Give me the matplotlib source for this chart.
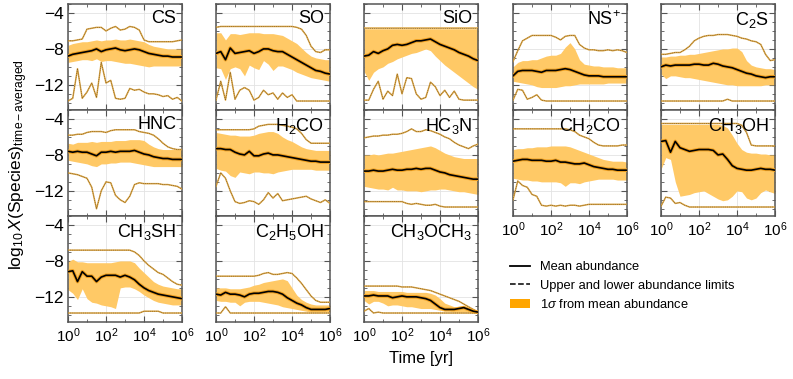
import numpy as np
import matplotlib
matplotlib.use("Agg")
import matplotlib.pyplot as plt
from matplotlib.lines import Line2D
from matplotlib.patches import Patch
from matplotlib.ticker import MultipleLocator, LogLocator, NullFormatter

plt.rcParams['font.family'] = ['Liberation Sans', 'DejaVu Sans']
plt.rcParams['mathtext.fontset'] = 'custom'
plt.rcParams['mathtext.rm'] = 'Liberation Sans'
plt.rcParams['mathtext.it'] = 'Liberation Sans:italic'
plt.rcParams['mathtext.bf'] = 'Liberation Sans:bold'

# ---------------- data ----------------
LOG_TIME = np.linspace(0, 6, 25)  # log10(t / yr) grid

SPECIES = ["CS", "SO", "SiO", "NS+", "C2S", "HNC", "H2CO", "HC3N",
           "CH2CO", "CH3OH", "CH3SH", "C2H5OH", "CH3OCH3"]
LABELS = ["CS", "SO", "SiO", r"NS$^{+}$", r"C$_2$S", "HNC", r"H$_2$CO", r"HC$_3$N",
          r"CH$_2$CO", r"CH$_3$OH", r"CH$_3$SH", r"C$_2$H$_5$OH", r"CH$_3$OCH$_3$"]

MEAN = {
    "CS": [-8.8,-8.6,-8.5,-8.4,-8.3,-8.2,-8.0,-8.3,-8.1,-8.0,-7.9,-8.1,-8.2,-8.1,-8.0,-8.1,-8.3,-8.5,-8.6,-8.7,-8.8,-8.8,-8.9,-8.9,-8.9],
    "SO": [-8.5,-8.3,-9.2,-7.9,-8.5,-8.4,-8.3,-8.2,-8.5,-8.3,-8.0,-8.0,-8.2,-8.3,-8.3,-8.6,-8.9,-9.2,-9.5,-9.8,-10.1,-10.4,-10.5,-10.7,-10.8],
    "SiO": [-8.8,-8.7,-8.3,-8.5,-8.2,-8.0,-7.6,-7.5,-7.6,-7.5,-7.3,-7.1,-7.1,-7.0,-6.9,-7.2,-7.5,-7.7,-7.9,-8.1,-8.4,-8.6,-8.8,-9.1,-9.3],
    "NS+": [-11.0,-10.5,-10.4,-10.4,-10.4,-10.5,-10.6,-10.4,-10.4,-10.4,-10.3,-10.2,-10.3,-10.5,-10.7,-10.9,-11.0,-11.0,-11.0,-11.1,-11.1,-11.1,-11.1,-11.1,-11.1],
    "C2S": [-10.0,-9.8,-9.9,-9.8,-9.8,-9.8,-9.8,-9.7,-9.7,-9.8,-9.8,-9.6,-9.7,-9.9,-10.0,-10.1,-10.3,-10.5,-10.7,-10.8,-11.0,-11.1,-11.2,-11.1,-11.1],
    "HNC": [-7.6,-7.7,-7.6,-7.7,-7.7,-7.9,-8.1,-7.7,-7.7,-7.6,-7.7,-7.6,-7.6,-7.6,-7.5,-7.7,-7.9,-8.0,-8.2,-8.3,-8.4,-8.4,-8.5,-8.5,-8.5],
    "H2CO": [-7.3,-7.3,-7.4,-7.4,-7.7,-7.9,-8.0,-7.6,-8.1,-8.1,-7.9,-7.8,-8.0,-8.0,-8.1,-8.2,-8.3,-8.4,-8.5,-8.6,-8.7,-8.7,-8.8,-8.8,-8.8],
    "HC3N": [-9.8,-9.8,-9.7,-9.8,-9.8,-9.7,-9.6,-9.7,-9.7,-9.6,-9.6,-9.5,-9.6,-9.5,-9.5,-9.7,-9.9,-10.0,-10.2,-10.3,-10.4,-10.5,-10.6,-10.7,-10.7],
    "CH2CO": [-8.7,-8.6,-8.5,-8.5,-8.6,-8.6,-8.6,-8.7,-8.7,-8.6,-8.8,-8.8,-8.9,-9.0,-9.0,-8.9,-9.1,-9.3,-9.4,-9.5,-9.6,-9.6,-9.7,-9.7,-9.7],
    "CH3OH": [-6.5,-6.4,-7.7,-6.5,-7.2,-7.4,-7.6,-7.5,-7.4,-7.4,-7.4,-7.5,-8.0,-7.9,-8.5,-9.2,-9.5,-9.6,-9.7,-9.7,-9.6,-9.5,-9.6,-9.6,-9.7],
    "CH3SH": [-9.2,-9.1,-10.3,-9.2,-9.7,-9.7,-10.3,-9.8,-9.6,-9.6,-9.6,-9.8,-9.6,-9.8,-10.1,-10.6,-11.0,-11.3,-11.5,-11.7,-11.8,-11.9,-12.0,-12.1,-12.2],
    "C2H5OH": [-11.7,-11.8,-11.5,-11.7,-11.7,-11.8,-12.0,-11.7,-11.6,-11.6,-11.5,-11.4,-11.4,-11.5,-11.7,-12.1,-12.4,-12.7,-12.9,-13.2,-13.4,-13.4,-13.4,-13.4,-13.3],
    "CH3OCH3": [-11.9,-11.9,-11.8,-11.9,-11.9,-11.9,-12.1,-12.0,-11.9,-12.0,-12.0,-12.0,-12.1,-12.2,-12.4,-12.8,-13.2,-13.4,-13.4,-13.4,-13.3,-13.2,-13.4,-13.6,-13.7],
}

SIGMA_HI = {
    "CS": [-7.6,-7.4,-7.3,-7.2,-7.2,-7.1,-7.0,-7.1,-7.0,-7.0,-6.9,-7.0,-7.0,-6.9,-7.0,-7.1,-7.2,-7.5,-7.7,-7.8,-7.9,-8.0,-8.0,-8.0,-8.0],
    "SO": [-6.2,-6.2,-7.0,-6.3,-6.3,-6.4,-6.3,-6.2,-6.2,-6.2,-6.3,-6.3,-6.3,-6.4,-6.5,-6.8,-7.1,-7.4,-7.9,-8.4,-8.8,-9.0,-9.1,-9.2,-9.2],
    "SiO": [-5.75]*25,
    "NS+": [-10.0,-9.5,-9.3,-9.3,-9.2,-9.2,-9.0,-8.8,-8.7,-8.7,-8.5,-7.8,-7.3,-8.0,-9.2,-9.7,-9.8,-9.9,-9.9,-10.0,-10.0,-10.0,-10.1,-10.1,-10.1],
    "C2S": [-8.9,-8.9,-8.8,-8.8,-8.7,-8.7,-8.6,-8.6,-8.5,-8.4,-8.3,-8.2,-8.1,-8.0,-8.0,-7.9,-7.9,-8.3,-9.3,-9.8,-10.0,-10.1,-10.2,-10.2,-10.3],
    "HNC": [-6.7,-6.8,-6.6,-6.6,-6.6,-6.5,-6.6,-6.5,-6.5,-6.5,-6.4,-6.4,-6.4,-6.3,-6.3,-6.3,-6.4,-6.8,-7.1,-7.3,-7.4,-7.4,-7.4,-7.4,-7.4],
    "H2CO": [-5.5,-5.6,-5.7,-5.8,-5.8,-5.9,-5.9,-5.9,-5.8,-5.6,-5.5,-5.4,-5.4,-5.6,-6.0,-6.3,-6.5,-6.8,-7.1,-7.3,-7.4,-7.5,-7.5,-7.5,-7.5],
    "HC3N": [-8.0,-8.0,-7.9,-8.0,-7.9,-7.8,-7.8,-7.7,-7.6,-7.5,-7.4,-7.3,-7.2,-7.1,-7.0,-7.2,-7.5,-7.8,-8.0,-8.2,-8.3,-8.4,-8.4,-8.4,-8.4],
    "CH2CO": [-7.4,-7.3,-7.3,-7.2,-7.2,-7.1,-7.1,-7.1,-7.0,-7.0,-7.0,-7.0,-7.1,-7.3,-7.5,-7.7,-7.9,-8.1,-8.3,-8.5,-8.6,-8.7,-8.7,-8.7,-8.8],
    "CH3OH": [-4.6]*13 + [-4.7,-5.0,-5.8,-6.7,-7.4,-7.7,-7.8,-7.8,-7.9,-7.9,-8.0,-8.0],
    "CH3SH": [-8.1,-7.8,-8.1,-8.1,-8.2,-8.2,-8.2,-8.2,-8.2,-8.2,-8.1,-8.0,-8.0,-8.0,-8.2,-8.8,-9.3,-9.8,-10.3,-10.6,-10.8,-10.9,-11.0,-11.1,-11.1],
    "C2H5OH": [-11.0,-11.0,-11.0,-11.1,-11.1,-11.1,-11.0,-10.9,-10.7,-10.6,-10.4,-10.3,-10.2,-10.1,-10.0,-10.2,-11.0,-11.8,-12.3,-12.6,-12.8,-12.9,-12.9,-12.9,-12.9],
    "CH3OCH3": [-11.3,-11.3,-11.3,-11.4,-11.4,-11.4,-11.4,-11.4,-11.4,-11.5,-11.5,-11.5,-11.5,-11.5,-11.6,-11.8,-12.2,-12.7,-12.9,-13.1,-13.2,-13.3,-13.4,-13.5,-13.6],
}

SIGMA_LO = {
    "CS": [-9.5,-9.4,-9.3,-9.2,-9.2,-9.3,-9.1,-9.4,-9.3,-9.3,-9.4,-9.5,-9.6,-9.6,-9.7,-9.8,-9.9,-10.0,-9.9,-9.9,-9.9,-9.9,-9.9,-9.9,-9.9],
    "SO": [-10.1,-10.2,-11.4,-10.2,-10.0,-10.2,-11.0,-9.8,-10.1,-10.3,-9.3,-9.7,-10.4,-9.9,-9.9,-10.1,-10.3,-10.6,-10.8,-11.0,-11.2,-11.3,-11.4,-11.5,-11.6],
    "SiO": [-10.5,-11.5,-10.6,-10.2,-10.0,-9.6,-9.4,-9.1,-8.9,-8.7,-8.5,-8.4,-8.2,-8.0,-8.2,-8.8,-9.3,-9.8,-10.2,-10.6,-11.0,-11.4,-11.8,-12.2,-12.5],
    "NS+": [-11.6,-11.7,-11.8,-11.9,-12.0,-12.2,-12.3,-12.3,-12.3,-12.3,-12.2,-12.1,-12.1,-12.0,-11.9,-11.9,-11.9,-11.9,-11.9,-11.9,-11.8,-11.8,-11.8,-11.8,-11.8],
    "C2S": [-10.8,-11.3,-11.0,-11.0,-11.1,-11.2,-11.2,-11.3,-11.4,-11.5,-11.6,-11.7,-11.8,-11.9,-12.0,-12.0,-12.1,-12.1,-12.1,-12.1,-12.1,-12.1,-12.0,-12.0,-12.0],
    "HNC": [-8.6,-8.7,-8.8,-8.9,-9.0,-9.2,-9.3,-9.0,-9.0,-8.9,-8.9,-8.8,-8.8,-8.8,-8.9,-9.0,-9.1,-9.2,-9.3,-9.3,-9.3,-9.3,-9.3,-9.3,-9.3],
    "H2CO": [-9.5,-9.7,-9.8,-10.3,-10.5,-9.9,-10.0,-10.1,-9.9,-9.9,-10.0,-10.0,-10.1,-9.9,-9.8,-9.7,-9.6,-9.6,-9.6,-9.6,-9.6,-9.7,-9.7,-9.7,-9.7],
    "HC3N": [-11.5,-11.6,-11.7,-11.8,-11.8,-11.9,-11.6,-11.9,-11.9,-12.0,-12.0,-12.0,-12.1,-12.0,-11.9,-11.9,-11.8,-11.8,-11.9,-12.0,-12.1,-12.1,-12.2,-12.3,-12.4],
    "CH2CO": [-10.6,-10.7,-10.8,-10.8,-10.9,-10.9,-11.0,-11.0,-11.0,-11.0,-11.1,-11.5,-11.1,-11.1,-11.2,-11.0,-10.9,-10.8,-10.7,-10.7,-10.7,-10.7,-10.8,-10.8,-10.8],
    "CH3OH": [-9.6,-8.3,-8.5,-11.0,-12.6,-12.5,-12.4,-12.2,-12.1,-12.0,-12.3,-12.6,-12.9,-13.1,-13.0,-12.6,-12.0,-12.1,-12.8,-13.0,-12.8,-12.2,-11.9,-12.1,-12.3],
    "CH3SH": [-11.2,-11.6,-12.3,-11.1,-12.2,-12.6,-12.7,-12.9,-13.0,-13.1,-13.3,-11.0,-10.9,-10.9,-11.1,-11.4,-11.8,-12.1,-12.4,-12.6,-12.7,-12.8,-12.9,-12.9,-12.9],
    "C2H5OH": [-12.4,-12.5,-12.5,-12.6,-12.6,-13.0,-12.6,-12.5,-12.5,-12.5,-12.6,-12.7,-12.8,-12.9,-13.1,-13.2,-13.3,-13.4,-13.5,-13.6,-13.7,-13.7,-13.7,-13.7,-13.7],
    "CH3OCH3": [-12.4,-12.8,-12.5,-12.5,-12.7,-13.0,-12.9,-12.9,-13.0,-13.1,-13.1,-13.2,-13.3,-13.3,-13.3,-13.4,-13.5,-13.6,-13.6,-13.7,-13.7,-13.7,-13.7,-13.8,-13.8],
}

UPPER = {
    "CS": [-7.1,-7.1,-7.0,-6.9,-5.8,-5.7,-5.6,-5.6,-6.0,-5.7,-5.5,-5.9,-5.8,-5.5,-5.6,-5.9,-7.0,-7.2,-7.2,-7.2,-7.2,-7.2,-7.2,-7.1,-7.0],
    "SO": [-5.6,-5.5,-5.5,-5.5,-5.5,-5.5,-5.5,-5.5,-5.5,-5.5,-5.5,-5.5,-5.5,-5.5,-5.5,-5.5,-5.5,-5.6,-5.8,-6.5,-7.7,-8.3,-8.4,-8.1,-8.1],
    "SiO": [-5.7]*25,
    "NS+": [-9.4,-8.2,-7.1,-6.8,-6.5,-6.5,-6.5,-6.5,-6.5,-6.7,-7.0,-6.6,-6.5,-6.5,-7.5,-7.9,-8.1,-8.1,-8.2,-8.2,-8.1,-8.2,-8.1,-8.2,-8.4],
    "C2S": [-8.6,-8.6,-8.5,-8.4,-8.4,-8.1,-7.7,-7.1,-6.8,-6.6,-6.5,-6.5,-6.4,-6.4,-6.4,-6.5,-6.6,-6.8,-6.9,-7.1,-7.2,-7.5,-8.6,-9.3,-9.2],
    "HNC": [-5.8,-5.8,-5.7,-5.7,-5.5,-5.4,-5.4,-5.4,-5.5,-5.3,-5.2,-5.2,-5.2,-5.2,-5.2,-5.4,-5.5,-5.6,-5.8,-6.2,-6.7,-7.1,-7.3,-7.4,-7.4],
    "H2CO": [-5.2]*8 + [-5.1,-4.8,-4.7,-4.6,-4.6,-4.6,-4.7,-4.8,-4.9,-5.1,-5.6,-6.3,-6.7,-6.7,-6.7,-6.7,-6.7],
    "HC3N": [-6.1,-6.0,-5.9,-5.9,-5.8,-5.8,-5.7,-5.7,-5.6,-5.4,-5.1,-5.4,-5.4,-5.2,-5.3,-5.5,-5.7,-6.0,-6.2,-6.6,-6.9,-7.1,-7.3,-7.0,-6.8],
    "CH2CO": [-5.1]*12 + [-5.2,-5.4,-5.8,-6.0,-6.2,-6.6,-6.9,-7.0,-7.0,-7.0,-7.0,-6.9,-6.9],
    "CH3OH": [-4.5]*17 + [-4.7,-5.5,-6.9,-7.0,-7.0,-7.0,-7.0,-7.0],
    "CH3SH": [-6.8]*14 + [-7.0,-7.4,-8.0,-8.5,-8.9,-9.3,-9.5,-9.9,-10.3,-10.6,-10.7],
    "C2H5OH": [-9.7]*9 + [-9.6,-9.4,-9.3,-9.5,-9.5,-9.4,-9.3,-9.4,-9.9,-10.5,-11.2,-11.9,-12.4,-12.6,-12.6,-12.6],
    "CH3OCH3": [-10.8]*8 + [-10.9,-10.9,-10.9,-11.0,-11.1,-11.2,-11.3,-11.5,-11.7,-11.9,-12.1,-12.3,-12.5,-12.8,-13.1,-13.4,-13.7],
}

LOWER = {
    "CS": [-13.8,-13.5,-10.2,-13.5,-12.8,-11.8,-13.4,-9.5,-11.8,-11.5,-13.5,-13.6,-13.5,-12.4,-12.6,-12.5,-12.8,-13.0,-13.0,-13.1,-13.3,-13.2,-13.6,-13.4,-13.8],
    "SO": [-13.7,-11.6,-13.7,-10.6,-13.6,-12.6,-12.3,-12.6,-13.7,-13.4,-12.6,-13.1,-12.9,-13.6,-12.9,-13.4,-13.1,-13.8,-13.8,-13.8,-13.8,-13.8,-13.8,-13.8,-13.8],
    "SiO": [-13.7,-13.7,-12.5,-11.6,-13.6,-12.7,-13.2,-10.8,-13.0,-11.2,-11.3,-13.0,-13.6,-13.4,-11.7,-12.2,-13.2,-12.6,-13.4,-12.7,-13.6,-13.7,-13.7,-13.7,-13.7],
    "NS+": [-13.7,-12.5,-12.6,-13.6,-13.4,-13.1,-13.7] + [-13.8]*18,
    "C2S": [-13.8]*14 + [-13.6] + [-13.8]*10,
    "HNC": [-10.0,-10.1,-10.2,-10.4,-10.6,-11.6,-14.0,-12.0,-11.0,-11.1,-12.5,-13.0,-13.3,-12.6,-11.3,-11.1,-11.2,-11.2,-11.2,-11.2,-11.3,-11.3,-11.4,-11.5,-11.8],
    "H2CO": [-11.5,-10.0,-10.6,-12.0,-13.2,-13.4,-13.3,-13.1,-13.2,-13.5,-13.0,-12.2,-12.8,-12.3,-13.1,-13.0,-12.9,-12.8,-12.7,-12.6,-12.9,-13.1,-13.3,-13.0,-13.4],
    "HC3N": [-13.2]*9 + [-13.4,-13.5,-13.4,-13.5,-13.6,-13.6,-13.5,-13.7,-13.8,-13.8,-13.8,-13.8,-13.8,-13.8,-13.8,-13.8],
    "CH2CO": [-13.0,-10.9,-11.4,-11.6,-12.4,-12.6,-13.6,-13.7,-13.6,-13.7,-13.6,-13.7,-13.6,-13.6,-13.7,-13.6,-13.5,-13.5,-13.5,-13.5,-13.5,-13.5,-13.5,-13.5,-13.5],
    "CH3OH": [-13.7,-12.7,-12.8,-13.4,-13.3,-13.6] + [-13.8]*19,
    "CH3SH": [-13.8]*16 + [-13.6]*4 + [-13.8]*5,
    "C2H5OH": [-13.8,-13.8,-13.1,-13.8] + [-13.8]*21,
    "CH3OCH3": [-13.6,-13.3,-13.8,-13.7] + [-13.8]*21,
}

# ---------------- layout ----------------
W, H = 793, 379
fig = plt.figure(figsize=(W / 100, H / 100), dpi=100)

COL_LEFT = [68, 216, 364, 513, 661]
ROW_TOP = [4, 110, 216]
AX_W, AX_H = 114, 106

FILL_C = '#FFC966'
LIM_C = '#DDA84A'
SPINE_C = '#555555'

times = 10 ** LOG_TIME

for i, sp in enumerate(SPECIES):
    r, c = divmod(i, 5)
    x0 = COL_LEFT[c] / W
    y0 = 1 - (ROW_TOP[r] + AX_H) / H
    ax = fig.add_axes([x0, y0, AX_W / W, AX_H / H])

    ax.fill_between(times, SIGMA_LO[sp], SIGMA_HI[sp], color=FILL_C, lw=0, zorder=2)
    for arr in (UPPER[sp], LOWER[sp]):
        ax.plot(times, arr, color=LIM_C, lw=1.1, zorder=3)
        ax.plot(times, arr, color='#6b4a10', lw=0.5, ls=(0, (1.5, 1.2)), alpha=0.75, zorder=3.5)
    ax.plot(times, MEAN[sp], color='#F0A020', lw=2.6, zorder=4)
    ax.plot(times, MEAN[sp], color='black', lw=1.2, zorder=5)

    ax.set_xscale('log')
    ax.set_xlim(1, 1e6)
    ax.set_ylim(-14.8, -3)
    ax.xaxis.set_major_locator(LogLocator(base=100, numticks=10))
    ax.xaxis.set_minor_locator(LogLocator(base=10, subs=(1.0,), numticks=10))
    ax.xaxis.set_minor_formatter(NullFormatter())
    ax.yaxis.set_major_locator(MultipleLocator(4))
    ax.yaxis.set_minor_locator(MultipleLocator(1))
    ax.grid(True, which='major', color='#e3e3e3', lw=0.6, zorder=0)
    ax.set_axisbelow(True)

    ax.tick_params(which='both', direction='in', top=True, right=True,
                   color=SPINE_C, pad=3)
    ax.tick_params(axis='y', labelsize=12.5)
    ax.tick_params(axis='x', labelsize=11)
    ax.tick_params(which='major', length=4, width=0.8)
    ax.tick_params(which='minor', length=2.2, width=0.6)
    for s in ax.spines.values():
        s.set_color(SPINE_C)
        s.set_linewidth(1.1)

    if c != 0:
        ax.tick_params(labelleft=False)
    show_x = (r == 2) or (r == 1 and c >= 3)
    if not show_x:
        ax.tick_params(labelbottom=False)

    ax.text(0.95, 0.94, LABELS[i], transform=ax.transAxes, ha='right', va='top',
            fontsize=13, zorder=6)

fig.text(19 / W, 1 - 165 / H,
         r'$\mathrm{log}_{10}\,X(\mathrm{Species})_{\mathrm{time-averaged}}$',
         rotation=90, ha='center', va='center', fontsize=12.5)
fig.text(421 / W, 1 - 359 / H, 'Time [yr]', ha='center', va='center', fontsize=12)

handles = [Line2D([], [], color='black', lw=1.3),
           Line2D([], [], color='black', lw=1.1, ls='--'),
           Patch(facecolor='#FFA500', edgecolor='none')]
labels = ['Mean abundance', 'Upper and lower abundance limits', r'1$\sigma$ from mean abundance']
fig.legend(handles, labels, loc='upper left', bbox_to_anchor=(505 / W, 1 - 256 / H),
           frameon=False, fontsize=9.3, handlelength=1.5, handletextpad=0.8,
           labelspacing=0.5, borderaxespad=0)

fig.savefig('out.png', dpi=100)
